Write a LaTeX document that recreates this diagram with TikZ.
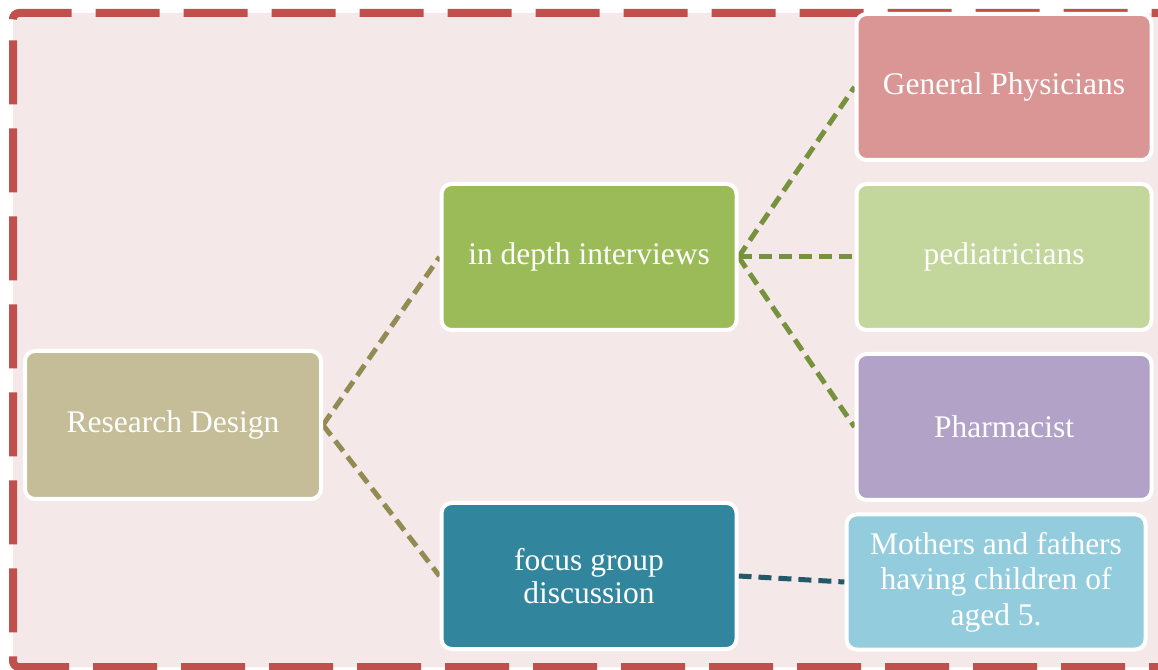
\documentclass[tikz,border=0pt]{standalone}
\usepackage{fontspec}
\setmainfont{Liberation Serif}
\usetikzlibrary{backgrounds}
\definecolor{framered}{HTML}{C0504D}
\definecolor{framepink}{HTML}{F5E8E9}
\definecolor{designfill}{HTML}{C4BD97}
\definecolor{interviewfill}{HTML}{9BBB59}
\definecolor{focusfill}{HTML}{31859C}
\definecolor{physicianfill}{HTML}{D99694}
\definecolor{pediatricfill}{HTML}{C3D69B}
\definecolor{pharmacistfill}{HTML}{B2A2C7}
\definecolor{parentfill}{HTML}{93CDDD}
\definecolor{designline}{HTML}{948A54}
\definecolor{interviewline}{HTML}{76923C}
\definecolor{focusline}{HTML}{215968}
\begin{document}
\begin{tikzpicture}[x=1pt,y=1pt,line join=round,
  box/.style={rectangle,rounded corners=10pt,draw=white,line width=4pt,text=white,
    minimum width=295pt,minimum height=146pt,align=center,inner sep=4pt,
    font=\fontsize{31.5}{33}\selectfont},
  link/.style={line width=5pt,dash pattern=on 13pt off 7pt}]
  \useasboundingbox (0,0) rectangle (1158,669);
  \node[box,fill=designfill,minimum width=296pt,minimum height=148pt] (design) at (173,244) {Research Design};
  \node[box,fill=interviewfill] (interviews) at (589,412) {in depth interviews};
  \node[box,fill=focusfill] (focus) at (589,93) {focus group\\discussion};
  \node[box,fill=physicianfill] (physicians) at (1004,582) {General Physicians};
  \node[box,fill=pediatricfill] (pediatricians) at (1004,412) {pediatricians};
  \node[box,fill=pharmacistfill] (pharmacist) at (1004,242) {Pharmacist};
  \node[box,fill=parentfill,minimum width=299pt,minimum height=135pt,
    font=\fontsize{31.5}{35.5}\selectfont] (parents) at (996,87)
    {Mothers and fathers\\having children of\\aged 5.};
  \begin{pgfonlayer}{background}
    \fill[framepink,rounded corners=6pt] (13,2) rectangle (1166,656);
    \draw[framered,line width=8pt,rounded corners=6pt,dash pattern=on 64pt off 24pt]
      (13,646) -- (13,656) -- (1166,656) -- (1166,2) -- (13,2) -- cycle;
    % research design branches
    \draw[link,designline] (design.east) -- (interviews.west);
    \draw[link,designline] (design.east) -- (focus.west);
    % interview branches
    \draw[link,interviewline] (interviews.east) -- (physicians.west);
    \draw[link,interviewline] (interviews.east) -- (pediatricians.west);
    \draw[link,interviewline] (interviews.east) -- (pharmacist.west);
    % focus group branch
    \draw[link,focusline] (focus.east) -- (parents.west);
  \end{pgfonlayer}
\end{tikzpicture}
\end{document}
